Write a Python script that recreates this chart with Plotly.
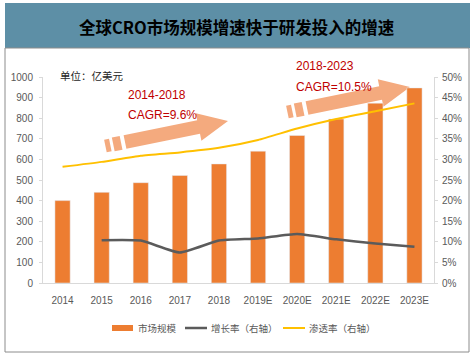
import math
import plotly.graph_objects as go

# ---- data ----
years = ["2014", "2015", "2016", "2017", "2018", "2019E", "2020E", "2021E", "2022E", "2023E"]
market_size = [400, 440, 487, 522, 578, 640, 716, 796, 873, 947]          # 亿美元
growth_rate = [None, 10.4, 10.3, 7.4, 10.3, 10.8, 11.9, 10.6, 9.6, 8.8]   # %
penetration = [28.2, 29.4, 30.9, 31.7, 32.8, 34.7, 37.5, 39.8, 41.7, 43.6]  # %
left_ticks = list(range(0, 1001, 100))
right_ticks = list(range(0, 51, 5))
right_labels = [f"{v}%" for v in right_ticks]

title_text = "全球CRO市场规模增速快于研发投入的增速"
unit_text = "单位：亿美元"
legend_names = ["市场规模", "增长率（右轴）", "渗透率（右轴）"]
cagr_notes = [("2014-2018", "CAGR=9.6%"), ("2018-2023", "CAGR=10.5%")]

# ---- layout geometry (pixels) ----
W, H = 475, 357
PL, PR, PT, PB = 43, 434, 77, 283   # plot area in pixels

def px(x):
    return (x - PL) / (PR - PL)

def py(y):
    return (PB - y) / (PB - PT)

BAR = "#ED7D31"
GRAY = "#5B5B5B"
YEL = "#FFC000"
ARROW = "#F4AA7E"
RED = "#C00000"
AX = "#595959"
SANS = "Liberation Sans, Arial, sans-serif"
CJK = "Noto Sans CJK SC, Microsoft YaHei, sans-serif"

fig = go.Figure()
fig.add_trace(go.Bar(x=years, y=market_size, marker_color=BAR, name=legend_names[0],
                     showlegend=False))
fig.add_trace(go.Scatter(x=years, y=growth_rate, yaxis="y2", mode="lines",
                         line=dict(color=GRAY, width=2.5, shape="spline", smoothing=0.5),
                         name=legend_names[1], showlegend=False))
fig.add_trace(go.Scatter(x=years, y=penetration, yaxis="y2", mode="lines",
                         line=dict(color=YEL, width=2, shape="spline", smoothing=0.5),
                         name=legend_names[2], showlegend=False))

shapes = []
annotations = []

def note(text, x, y, size, color, family, xanchor="left"):
    annotations.append(dict(text=text, xref="paper", yref="paper", x=px(x), y=py(y),
                            xanchor=xanchor, yanchor="middle", showarrow=False,
                            font=dict(family=family, size=size, color=color)))

# banner + border
shapes.append(dict(type="rect", xref="paper", yref="paper", x0=px(5), x1=px(470),
                   y0=py(48), y1=py(3), fillcolor="#5D8FA6", line=dict(width=0), layer="below"))
shapes.append(dict(type="rect", xref="paper", yref="paper", x0=px(5), x1=px(469),
                   y0=py(352), y1=py(48), fillcolor="rgba(0,0,0,0)",
                   line=dict(color="#8C8C8C", width=1)))
note("<b>" + title_text + "</b>", 237, 27, 16.5, "#000000", CJK, xanchor="center")
note(unit_text, 58, 75, 10.5, "#262626", CJK)

# decorative arrows
def arrow_paths(sx, sy, tx, ty):
    dx, dy = tx - sx, ty - sy
    L = math.hypot(dx, dy)
    ux, uy = dx / L, dy / L
    nx, ny = -uy, ux
    hw, hl, hhw = 7, 30, 14
    def pt(s, t):
        return (sx + ux * s + nx * t, sy + uy * s + ny * t)
    poly = [pt(0, -hw), pt(L - hl, -hw), pt(L - hl, -hhw), pt(L, 0),
            pt(L - hl, hhw), pt(L - hl, hw), pt(0, hw)]
    blocks = [[pt(-12, -hw), pt(-4, -hw), pt(-4, hw), pt(-12, hw)],
              [pt(-20, -hw + 0.5), pt(-15, -hw + 0.5), pt(-15, hw - 0.5), pt(-20, hw - 0.5)]]
    out = []
    for p in [poly] + blocks:
        d = "M " + " L ".join(f"{px(a):.5f},{py(b):.5f}" for a, b in p) + " Z"
        out.append(d)
    return out

for (sx, sy, tx, ty) in [(125, 142, 228, 121), (307, 108, 410, 87)]:
    for d in arrow_paths(sx, sy, tx, ty):
        shapes.append(dict(type="path", xref="paper", yref="paper", path=d,
                           fillcolor=ARROW, line=dict(width=0), layer="below"))

# CAGR notes
for (l1, l2), (x0, y1, y2) in zip(cagr_notes, [(126, 95, 115), (294, 66, 87)]):
    note(l1, x0, y1, 12, RED, SANS)
    note(l2, x0, y2, 12, RED, SANS)

# custom legend
LY = 328
shapes.append(dict(type="rect", xref="paper", yref="paper", x0=px(112), x1=px(133),
                   y0=py(LY + 3), y1=py(LY - 3), fillcolor=BAR, line=dict(width=0)))
shapes.append(dict(type="line", xref="paper", yref="paper", x0=px(185), x1=px(207),
                   y0=py(LY), y1=py(LY), line=dict(color=GRAY, width=2.5)))
shapes.append(dict(type="line", xref="paper", yref="paper", x0=px(283), x1=px(305),
                   y0=py(LY), y1=py(LY), line=dict(color=YEL, width=2)))
for name, lx in zip(legend_names, [136, 209, 307]):
    note(name, lx, LY, 9.5, AX, CJK)

fig.update_layout(
    width=W, height=H,
    margin=dict(l=PL, r=W - PR, t=PT, b=H - PB, pad=0),
    paper_bgcolor="white", plot_bgcolor="rgba(0,0,0,0)",
    bargap=0.61,
    showlegend=False,
    shapes=shapes, annotations=annotations,
    xaxis=dict(type="category", showgrid=False, showline=True, linecolor="#D9D9D9",
               linewidth=1, ticks="", tickfont=dict(family=SANS, size=10, color=AX),
               ticklabelstandoff=8, zeroline=False, automargin=False),
    yaxis=dict(range=[0, 1000], tickvals=left_ticks, showgrid=False, showline=True,
               linecolor="#D9D9D9", ticks="outside", ticklen=3, tickcolor="#D9D9D9",
               tickfont=dict(family=SANS, size=10, color=AX), zeroline=False,
               ticklabelstandoff=4, automargin=False),
    yaxis2=dict(range=[0, 50], tickvals=right_ticks, ticktext=right_labels, overlaying="y",
                side="right", showgrid=False, showline=True, linecolor="#D9D9D9",
                ticks="outside", ticklen=3, tickcolor="#D9D9D9",
                tickfont=dict(family=SANS, size=10, color=AX), zeroline=False,
                ticklabelstandoff=2, automargin=False),
)

fig.write_html("out.html", config={"displayModeBar": False},
               post_script="document.body.style.margin='0';")
